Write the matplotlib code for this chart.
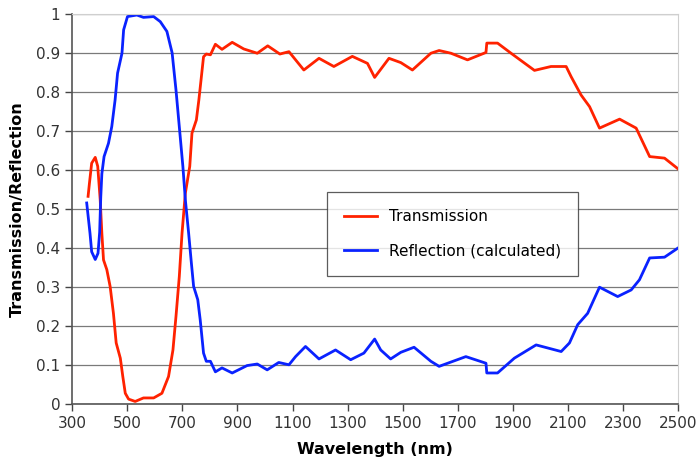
import numpy as np
import matplotlib.pyplot as plt

# values
trans_wl = [358, 363, 371, 384, 393, 402, 408, 414, 426, 438, 450, 460, 475, 484, 493,
            505, 529, 559, 596, 626, 650, 666, 677, 689, 699, 711, 727, 735, 751, 760,
            768, 777, 787, 802, 820, 844, 881, 923, 972, 1010, 1054, 1087, 1141, 1196,
            1250, 1317, 1372, 1398, 1450, 1493, 1535, 1602, 1632, 1675, 1735, 1802, 1805,
            1844, 1893, 1978, 2038, 2093, 2111, 2147, 2178, 2214, 2287, 2347, 2396, 2450, 2500]
trans = [0.532, 0.566, 0.617, 0.632, 0.609, 0.523, 0.437, 0.369, 0.344, 0.301, 0.232, 0.156,
         0.117, 0.070, 0.027, 0.012, 0.006, 0.015, 0.015, 0.027, 0.070, 0.138, 0.224, 0.326,
         0.438, 0.540, 0.609, 0.694, 0.728, 0.779, 0.831, 0.890, 0.897, 0.895, 0.922, 0.909,
         0.927, 0.910, 0.899, 0.918, 0.897, 0.903, 0.856, 0.886, 0.865, 0.891, 0.873, 0.837,
         0.886, 0.875, 0.856, 0.899, 0.906, 0.899, 0.882, 0.901, 0.925, 0.925, 0.899, 0.855,
         0.865, 0.865, 0.839, 0.792, 0.762, 0.707, 0.730, 0.707, 0.634, 0.630, 0.602]

refl_wl = [353, 365, 371, 384, 394, 400, 404, 408, 416, 432, 444, 456, 465, 481, 487, 501,
           535, 559, 596, 620, 644, 663, 677, 689, 702, 711, 723, 733, 741, 756, 765, 777,
           787, 802, 820, 844, 881, 935, 972, 1008, 1050, 1087, 1111, 1147, 1196, 1256, 1311,
           1359, 1398, 1420, 1456, 1493, 1541, 1602, 1632, 1729, 1802, 1805, 1844, 1905, 1984,
           2075, 2105, 2135, 2171, 2214, 2280, 2329, 2359, 2396, 2450, 2500]
refl = [0.515, 0.437, 0.39, 0.37, 0.386, 0.44, 0.53, 0.59, 0.634, 0.668, 0.711, 0.779, 0.848,
        0.899, 0.959, 0.993, 0.997, 0.991, 0.993, 0.980, 0.955, 0.900, 0.805, 0.711, 0.609,
        0.523, 0.437, 0.360, 0.301, 0.267, 0.215, 0.130, 0.109, 0.109, 0.082, 0.092, 0.079,
        0.098, 0.102, 0.087, 0.106, 0.100, 0.121, 0.147, 0.115, 0.138, 0.113, 0.130, 0.166,
        0.138, 0.115, 0.132, 0.145, 0.109, 0.096, 0.121, 0.104, 0.079, 0.079, 0.117, 0.151,
        0.134, 0.156, 0.203, 0.232, 0.299, 0.275, 0.292, 0.318, 0.374, 0.376, 0.400]

fig = plt.figure(figsize=(7, 4.62), dpi=100)
ax = fig.add_axes([0.103, 0.126, 0.866, 0.844])

ax.plot(trans_wl, trans, color="#ff2200", lw=2.0, label="Transmission")
ax.plot(refl_wl, refl, color="#0a22ff", lw=2.0, label="Reflection (calculated)")

ax.set_xlim(300, 2500)
ax.set_ylim(0, 1)
ax.set_xticks(np.arange(300, 2501, 200))
ax.set_yticks(np.round(np.arange(0, 1.01, 0.1), 1))
ax.set_yticklabels(["0"] + [f"{v:.1f}" for v in np.arange(0.1, 0.95, 0.1)] + ["1"])
ax.yaxis.grid(True, color="#7a7a7a", lw=0.9)
ax.set_axisbelow(True)

for s in ["top", "right"]:
    ax.spines[s].set_color("#cfcfcf")
for s in ["left", "bottom"]:
    ax.spines[s].set_color("#555555")
    ax.spines[s].set_linewidth(1.2)
ax.tick_params(colors="#444444", labelsize=11, length=5, width=1, labelcolor="#333333")

ax.set_xlabel("Wavelength (nm)", fontsize=11.5, fontweight="bold", labelpad=8)
ax.set_ylabel("Transmission/Reflection", fontsize=11.5, fontweight="bold", labelpad=8)

leg = ax.legend(loc="upper left", bbox_to_anchor=(0.42, 0.543), fontsize=11,
                frameon=True, fancybox=False, edgecolor="#333333", handlelength=2.2,
                borderpad=1.1, labelspacing=1.3, borderaxespad=0)
leg.get_frame().set_linewidth(0.9)

fig.savefig("out.png", dpi=100)
